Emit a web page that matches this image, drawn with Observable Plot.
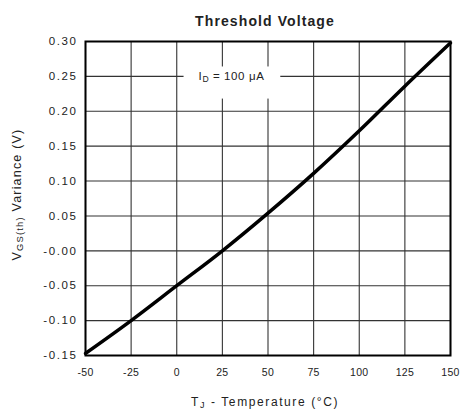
<!DOCTYPE html>
<html><head><meta charset="utf-8">
<script src="https://cdn.jsdelivr.net/npm/d3@7"></script>
<script src="https://cdn.jsdelivr.net/npm/@observablehq/plot@0.6"></script>
<style>
body{margin:0;background:#fff}
#chart svg{display:block;font-family:"Liberation Sans",Arial,sans-serif}
</style>
</head><body><div id="chart"></div>
<script>
// Data
const temperature = [-50, -25, 0, 25, 50, 75, 100, 125, 150];
const variance = [-0.147, -0.10, -0.05, 0.0, 0.054, 0.111, 0.172, 0.236, 0.298];
const xTicks = [-50, -25, 0, 25, 50, 75, 100, 125, 150];
const yTicks = [0.30, 0.25, 0.20, 0.15, 0.10, 0.05, 0.00, -0.05, -0.10, -0.15];
const yTickLabels = ["0.30", "0.25", "0.20", "0.15", "0.10", "0.05", "-0.00", "-0.05", "-0.10", "-0.15"];
const titleText = "Threshold Voltage";
const xLabel = "TJ - Temperature (°C)";
const yLabel = "VGS(th) Variance (V)";
const noteText = "ID = 100 μA";
const notePos = [{x: 30, y: 0.25}];
const noteBox = [{x1: 4, x2: 57, y1: 0.2175, y2: 0.2635}];

const data = temperature.map((t, i) => ({t, v: variance[i]}));

const chart = Plot.plot({
  width: 460,
  height: 416,
  marginLeft: 85,
  marginRight: 10,
  marginTop: 41,
  marginBottom: 61,
  x: {domain: [-50, 150]},
  y: {domain: [-0.15, 0.30]},
  style: {fontFamily: "Liberation Sans, Arial, sans-serif", background: "#fff"},
  marks: [
    Plot.gridX(xTicks, {stroke: "#333", strokeOpacity: 1, strokeWidth: 1.1}),
    Plot.gridY(yTicks, {stroke: "#333", strokeOpacity: 1, strokeWidth: 1.1}),
    Plot.rect(noteBox, {x1: "x1", x2: "x2", y1: "y1", y2: "y2", fill: "white"}),
    Plot.line(data, {x: "t", y: "v", stroke: "black", strokeWidth: 3.5, curve: "monotone-x"}),
    Plot.frame({stroke: "black", strokeWidth: 2}),
    Plot.axisX(xTicks, {tickSize: 0, tickPadding: 13, fontSize: 10.5, fill: "#222", tickFormat: d => String(d), label: null, className: "xticks"}),
    Plot.axisY(yTicks, {tickSize: 0, tickPadding: 8, fontSize: 11.5, fill: "#222", tickFormat: d => yTickLabels[yTicks.indexOf(d)], label: null, className: "yticks"}),
    Plot.text(notePos, {x: "x", y: "y", text: () => noteText, fontSize: 11.5, fill: "#222", className: "note"}),
    Plot.text([titleText], {frameAnchor: "top", dy: -25, dx: -3, text: d => d, fontSize: 14, fontWeight: "bold", fill: "#222", className: "title"}),
    Plot.text([xLabel], {frameAnchor: "bottom", textAnchor: "middle", dy: 50, dx: -3, text: d => d, fontSize: 12, fill: "#222", className: "xlab"}),
    Plot.text([yLabel], {frameAnchor: "left", textAnchor: "middle", dx: -69, dy: -4, rotate: -90, text: d => d, fontSize: 12.5, fill: "#222", className: "ylab"})
  ]
});

// letter spacing to mimic the wide font of the reference
d3.select(chart).selectAll(".yticks text").style("letter-spacing", "1.6px");
d3.select(chart).selectAll(".xticks text").style("letter-spacing", "0.3px");
d3.select(chart).selectAll(".title text").style("letter-spacing", "1.1px");
d3.select(chart).selectAll(".xlab text").style("letter-spacing", "1.6px");
d3.select(chart).selectAll(".ylab text").style("letter-spacing", "1.2px");
d3.select(chart).selectAll(".note text").style("letter-spacing", "0.6px");

function subscript(str, parts) {
  chart.querySelectorAll("text").forEach(t => {
    if (t.textContent === str) {
      t.textContent = "";
      parts.forEach(([s, sub]) => {
        const ts = document.createElementNS("http://www.w3.org/2000/svg", "tspan");
        ts.textContent = s;
        if (sub) { ts.setAttribute("font-size", "0.75em"); ts.setAttribute("baseline-shift", "-25%"); }
        t.appendChild(ts);
      });
    }
  });
}
subscript(yLabel, [["V", false], ["GS(th)", true], [" Variance (V)", false]]);
subscript(xLabel, [["T", false], ["J", true], [" - Temperature (°C)", false]]);
subscript(noteText, [["I", false], ["D", true], [" = 100 μA", false]]);

document.getElementById("chart").appendChild(chart);
</script>
</body></html>
